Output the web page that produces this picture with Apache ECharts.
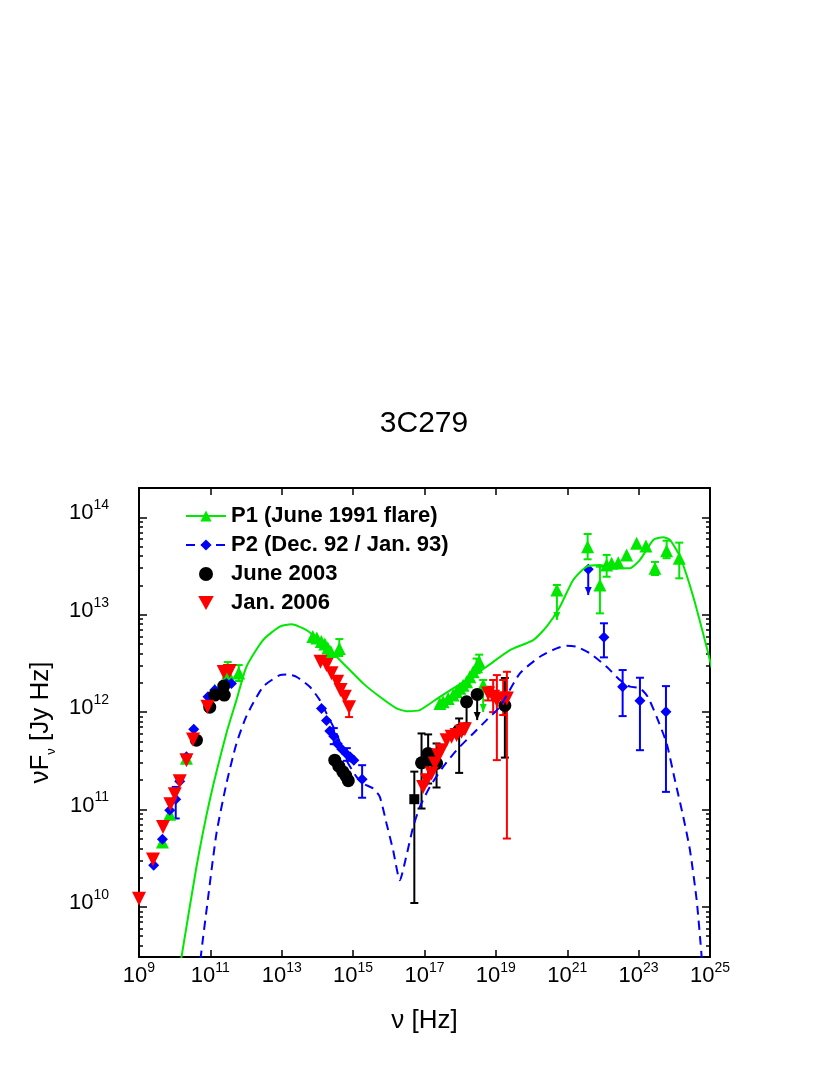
<!DOCTYPE html>
<html>
<head>
<meta charset="utf-8">
<title>3C279</title>
<script src="https://cdn.jsdelivr.net/npm/echarts@6/dist/echarts.min.js"></script>
<style>
  html, body { margin: 0; padding: 0; background: #fff; }
  #chart { width: 830px; height: 1075px; }
</style>
</head>
<body>
<div id="chart"></div>
<script>
// all values as log10(nu / Hz) and log10(nuF_nu / Jy Hz)

// model curves
const p1ModelLogNu = [9.95, 10.19, 10.609, 10.982, 11.45, 11.731, 12.011, 12.476, 12.944, 13.273, 13.693, 13.973, 14.346, 14.814, 15.28, 15.748, 16.216, 16.497, 16.869, 17.43, 18.179, 18.739, 19.393, 20.046, 20.422, 20.794, 21.167, 21.543, 21.916, 22.384, 22.757, 23.037, 23.41, 23.69, 23.878, 24.158, 24.531, 24.952, 25.05]
const p1ModelLogF = [9.0, 9.485, 10.41, 11.096, 11.784, 12.123, 12.466, 12.74, 12.877, 12.901, 12.843, 12.761, 12.637, 12.466, 12.295, 12.157, 12.038, 12.01, 12.021, 12.157, 12.329, 12.466, 12.637, 12.74, 12.877, 13.082, 13.357, 13.493, 13.511, 13.477, 13.477, 13.562, 13.768, 13.795, 13.768, 13.596, 13.185, 12.603, 12.45]

const p2ModelLogNu = [10.6, 10.73, 10.934, 11.17, 11.45, 11.731, 12.011, 12.476, 12.944, 13.132, 13.413, 13.786, 14.066, 14.254, 14.534, 14.814, 15.095, 15.28, 15.56, 15.748, 15.936, 16.121, 16.309, 16.497, 16.682, 16.87, 17.15, 17.523, 17.898, 18.364, 18.739, 19.112, 19.673, 20.234, 20.702, 20.982, 21.263, 21.635, 22.104, 22.477, 22.757, 23.037, 23.261, 23.505, 23.785, 24.018, 24.251, 24.439, 24.627, 24.767, 24.82]
const p2ModelLogF = [9.0, 9.485, 10.088, 10.753, 11.267, 11.678, 11.959, 12.26, 12.38, 12.387, 12.363, 12.26, 12.123, 11.987, 11.781, 11.507, 11.335, 11.267, 11.216, 11.13, 10.856, 10.582, 10.273, 10.53, 10.821, 11.027, 11.232, 11.438, 11.609, 11.781, 11.918, 12.054, 12.398, 12.568, 12.655, 12.681, 12.671, 12.603, 12.466, 12.329, 12.262, 12.247, 12.154, 11.952, 11.678, 11.301, 10.924, 10.582, 10.068, 9.485, 9.2]

// P1 (June 1991 flare) data, green up triangles
const p1LogNu = [9.656, 9.861, 10.329, 11.122, 11.487, 11.795, 13.87, 13.982, 14.108, 14.206, 14.29, 14.374, 14.613, 17.43, 17.523, 17.663, 17.803, 17.898, 17.991, 18.083, 18.179, 18.271, 18.364, 18.459, 18.532, 18.644, 20.71, 21.571, 21.916, 22.104, 22.244, 22.429, 22.664, 22.944, 23.205, 23.458, 23.785, 24.139]
const p1LogF = [10.667, 10.952, 11.527, 12.226, 12.401, 12.401, 12.776, 12.761, 12.725, 12.699, 12.658, 12.622, 12.653, 12.089, 12.106, 12.141, 12.175, 12.209, 12.244, 12.277, 12.311, 12.363, 12.414, 12.466, 12.517, 12.277, 13.254, 13.699, 13.305, 13.511, 13.528, 13.534, 13.613, 13.734, 13.706, 13.477, 13.658, 13.58]
// error bars: position, low end, high end, arrow (1 = upper limit)
const p1BarLogNu = [11.487, 11.795, 14.613, 18.459, 18.532, 18.644, 20.71, 21.571, 21.916, 22.104, 23.458, 23.785, 24.139]
const p1BarLo = [12.329, 12.319, 12.576, 12.40, 12.44, 12.0, 12.945, 13.569, 13.014, 13.39, 13.408, 13.58, 13.374]
const p1BarHi = [12.514, 12.483, 12.75, 12.55, 12.59, 12.33, 13.305, 13.829, 13.493, 13.614, 13.542, 13.76, 13.74]
const p1BarArrow = [0, 0, 0, 0, 0, 1, 1, 0, 0, 0, 0, 0, 0]

// P2 (Dec. 92 / Jan. 93) data, blue diamonds
const p2LogNu = [9.412, 9.656, 9.861, 10.029, 10.141, 10.329, 10.534, 10.934, 11.122, 11.45, 11.59, 14.114, 14.254, 14.346, 14.458, 14.557, 14.683, 14.823, 14.921, 15.019, 15.252, 21.588, 22.028, 22.552, 23.037, 23.766]
const p2LogF = [10.428, 10.695, 10.993, 11.106, 11.291, 11.541, 11.825, 12.157, 12.226, 12.295, 12.295, 12.036, 11.913, 11.805, 11.753, 11.676, 11.62, 11.568, 11.538, 11.507, 11.311, 13.467, 12.768, 12.26, 12.116, 12.003]
const p2BarLogNu = [10.029, 14.458, 14.823, 15.252, 21.588, 22.028, 22.552, 23.037, 23.766]
const p2BarLo = [10.908, 11.671, 11.50, 11.121, 13.202, 12.562, 11.959, 11.609, 11.181]
const p2BarHi = [11.232, 11.836, 11.63, 11.455, 13.467, 12.912, 12.432, 12.353, 12.267]
const p2BarArrow = [0, 0, 0, 0, 1, 0, 0, 0, 0]

// June 2003 data, black circles (first X-ray point is a square)
const junLogNu = [10.609, 10.982, 11.122, 11.375, 11.389, 14.486, 14.599, 14.711, 14.795, 14.865, 16.715, 16.917, 17.102, 17.198, 17.338, 17.971, 18.179, 18.476, 19.252]
const junLogF = [11.712, 12.051, 12.175, 12.267, 12.175, 11.507, 11.445, 11.389, 11.347, 11.296, 11.106, 11.479, 11.576, 11.507, 11.473, 11.815, 12.106, 12.182, 12.068]
const junBarLogNu = [16.715, 16.917, 17.102, 17.338, 17.971, 18.179, 18.476, 19.252]
const junBarLo = [10.04, 11.01, 11.267, 11.226, 11.376, 11.815, 11.918, 11.533]
const junBarHi = [11.389, 11.781, 11.771, 11.678, 11.935, 12.106, 12.182, 12.35]
const junBarArrow = [0, 0, 0, 0, 0, 1, 1, 0]

// Jan. 2006 data, red down triangles
const janLogNu = [9.0, 9.392, 9.673, 9.88, 10.001, 10.141, 10.329, 10.514, 10.918, 11.374, 11.543, 14.086, 14.254, 14.394, 14.551, 14.646, 14.767, 14.887, 16.962, 17.066, 17.198, 17.29, 17.383, 17.478, 17.618, 17.758, 17.898, 18.038, 18.131, 18.784, 18.924, 19.028, 19.205, 19.309]
const janLogF = [10.085, 10.486, 10.821, 11.055, 11.157, 11.291, 11.507, 11.719, 12.054, 12.411, 12.421, 12.517, 12.483, 12.398, 12.311, 12.226, 12.157, 12.051, 11.232, 11.301, 11.37, 11.473, 11.558, 11.609, 11.712, 11.746, 11.764, 11.798, 11.825, 12.192, 12.157, 12.123, 12.141, 12.141]
const janBarLogNu = [14.887, 18.784, 18.924, 19.028, 19.205, 19.309]
const janBarLo = [11.949, 12.12, 12.0, 11.507, 11.97, 10.702]
const janBarHi = [12.1, 12.26, 12.33, 12.38, 12.33, 12.414]
const janBarArrow = [0, 0, 0, 0, 0, 0]

// axes
const xMin = 1e9
const xMax = 1e25
const yMin = 3.06e9
const yMax = 2.0e14
const xTicks = [1e9, 1e11, 1e13, 1e15, 1e17, 1e19, 1e21, 1e23, 1e25]
const yTicks = [1e10, 1e11, 1e12, 1e13, 1e14]

const FONT = 'Liberation Sans, Arial, Helvetica, sans-serif'
const GREEN = '#00e800'
const BLUE = '#0000ff'
const RED = '#ff0000'
const BLACK = '#000000'

const p10 = v => Math.pow(10, v)
const pairs = (xs, ys) => xs.map((x, i) => [p10(x), p10(ys[i])])
const bars = (xs, lo, hi, arrow) => xs.map((x, i) => [p10(x), p10(lo[i]), p10(hi[i]), arrow[i]])

// log minor ticks 2..9 in every decade
const yMinorTicks = []
for (let d = 9; d <= 14; d++) {
  for (let k = 2; k <= 9; k++) {
    const v = k * Math.pow(10, d)
    if (v > yMin && v < yMax) yMinorTicks.push(v)
  }
}

const expLabel = v => '{b|10}{s|' + Math.round(Math.log10(v)) + '}'
const labelRich = {
  b: { fontSize: 22, lineHeight: 26, verticalAlign: 'bottom', fontFamily: FONT, color: '#000' },
  s: { fontSize: 14, lineHeight: 14, verticalAlign: 'top', fontFamily: FONT, color: '#000' },
}

function renderBar(params, api) {
  const x = api.value(0)
  const pLo = api.coord([x, api.value(1)])
  const pHi = api.coord([x, api.value(2)])
  const color = api.visual('color')
  const style = { stroke: color, lineWidth: 2 }
  const cap = 4
  const children = [
    { type: 'line', shape: { x1: pLo[0], y1: pLo[1], x2: pHi[0], y2: pHi[1] }, style },
    { type: 'line', shape: { x1: pHi[0] - cap, y1: pHi[1], x2: pHi[0] + cap, y2: pHi[1] }, style },
  ]
  if (api.value(3)) {
    children.push({
      type: 'polygon',
      shape: { points: [[pLo[0] - 3.5, pLo[1] - 8], [pLo[0] + 3.5, pLo[1] - 8], [pLo[0], pLo[1]]] },
      style: { fill: color },
    })
  } else {
    children.push({ type: 'line', shape: { x1: pLo[0] - cap, y1: pLo[1], x2: pLo[0] + cap, y2: pLo[1] }, style })
  }
  return { type: 'group', children }
}

function barSeries(name, color, data) {
  return {
    name: name,
    type: 'custom',
    renderItem: renderBar,
    itemStyle: { color: color },
    encode: { x: 0, y: [1, 2] },
    clip: true,
    silent: true,
    data: data,
  }
}

const names = ['P1 (June 1991 flare)', 'P2 (Dec. 92 / Jan. 93)', 'June 2003', 'Jan. 2006']

const frameAxis = {
  type: 'log',
  logBase: 10,
  axisLine: { show: true, onZero: false, lineStyle: { color: '#000', width: 2 } },
  splitLine: { show: false },
  minorTick: { show: false },
}

const yAxisBase = (position, ticks, len, showLine, showLabel) => Object.assign({}, frameAxis, {
  position: position,
  min: yMin,
  max: yMax,
  axisLine: { show: showLine, onZero: false, lineStyle: { color: '#000', width: 2 } },
  axisTick: { show: true, inside: true, length: len, customValues: ticks, lineStyle: { color: '#000', width: 1.5 } },
  axisLabel: showLabel
    ? { show: true, customValues: yTicks, margin: 30, formatter: expLabel, rich: labelRich, padding: [0, 0, 12, 0] }
    : { show: false },
})

const chart = echarts.init(document.getElementById('chart'))
chart.setOption({
  backgroundColor: '#fff',
  animation: false,
  title: {
    text: '3C279',
    left: 419,
    top: 404,
    textAlign: 'center',
    textStyle: { fontFamily: FONT, fontSize: 30, fontWeight: 'normal', color: '#000' },
  },
  legend: {
    data: names,
    orient: 'vertical',
    left: 180,
    top: 500,
    itemWidth: 40,
    itemHeight: 14,
    itemGap: 7,
    selectedMode: false,
    textStyle: { fontFamily: FONT, fontSize: 22, fontWeight: 'bold', color: '#000', lineHeight: 22 },
  },
  grid: { left: 139, right: 120, top: 488, bottom: 118, containLabel: false },
  xAxis: [
    Object.assign({}, frameAxis, {
      position: 'bottom',
      min: xMin,
      max: xMax,
      name: 'ν [Hz]',
      nameLocation: 'middle',
      nameGap: 51,
      nameTextStyle: { fontFamily: FONT, fontSize: 26, color: '#000' },
      axisTick: { show: true, inside: true, length: 7, customValues: xTicks, lineStyle: { color: '#000', width: 1.5 } },
      axisLabel: { show: true, customValues: xTicks, margin: 4, formatter: expLabel, rich: labelRich },
    }),
    Object.assign({}, frameAxis, {
      position: 'top',
      min: xMin,
      max: xMax,
      axisTick: { show: true, inside: true, length: 7, customValues: xTicks, lineStyle: { color: '#000', width: 1.5 } },
      axisLabel: { show: false },
    }),
  ],
  yAxis: [
    Object.assign(yAxisBase('left', yTicks, 8, true, true), {
      name: '{a|νF}{sub|ν}{a| [Jy Hz]}',
      nameLocation: 'middle',
      nameGap: 78,
      nameTextStyle: {
        rich: {
          a: { fontFamily: FONT, fontSize: 26, color: '#000', lineHeight: 30, verticalAlign: 'top' },
          sub: { fontFamily: FONT, fontSize: 13, color: '#000', lineHeight: 30, verticalAlign: 'bottom' },
        },
      },
    }),
    yAxisBase('left', yMinorTicks, 4, false, false),
    yAxisBase('right', yTicks, 8, true, false),
    yAxisBase('right', yMinorTicks, 4, false, false),
  ],
  series: [
    {
      name: names[0],
      type: 'line',
      data: pairs(p1ModelLogNu, p1ModelLogF),
      symbol: 'triangle',
      showSymbol: false,
      smooth: 0.2,
      clip: true,
      color: GREEN,
      lineStyle: { color: GREEN, width: 2 },
      silent: true,
    },
    {
      name: names[1],
      type: 'line',
      data: pairs(p2ModelLogNu, p2ModelLogF),
      symbol: 'diamond',
      showSymbol: false,
      smooth: 0.2,
      clip: true,
      color: BLUE,
      lineStyle: { color: BLUE, width: 2, type: [9, 6] },
      silent: true,
    },
    barSeries('P1 bars', GREEN, bars(p1BarLogNu, p1BarLo, p1BarHi, p1BarArrow)),
    {
      name: names[0],
      type: 'scatter',
      symbol: 'triangle',
      symbolSize: 13,
      itemStyle: { color: GREEN, opacity: 1 },
      data: pairs(p1LogNu, p1LogF),
    },
    barSeries('P2 bars', BLUE, bars(p2BarLogNu, p2BarLo, p2BarHi, p2BarArrow)),
    {
      name: names[1],
      type: 'scatter',
      symbol: 'diamond',
      symbolSize: 11,
      itemStyle: { color: BLUE, opacity: 1 },
      data: pairs(p2LogNu, p2LogF),
    },
    barSeries('June 2003 bars', BLACK, bars(junBarLogNu, junBarLo, junBarHi, junBarArrow)),
    {
      name: names[2],
      type: 'scatter',
      symbol: 'circle',
      symbolSize: 13,
      itemStyle: { color: BLACK, opacity: 1 },
      data: pairs(junLogNu, junLogF).map((p, i) => (i === 10 ? { value: p, symbol: 'rect', symbolSize: 10 } : p)),
    },
    barSeries('Jan. 2006 bars', RED, bars(janBarLogNu, janBarLo, janBarHi, janBarArrow)),
    {
      name: names[3],
      type: 'scatter',
      symbol: 'path://M0,0L10,0L5,9Z',
      symbolSize: 14,
      itemStyle: { color: RED, opacity: 1 },
      data: pairs(janLogNu, janLogF),
    },
  ],
})
</script>
</body>
</html>
